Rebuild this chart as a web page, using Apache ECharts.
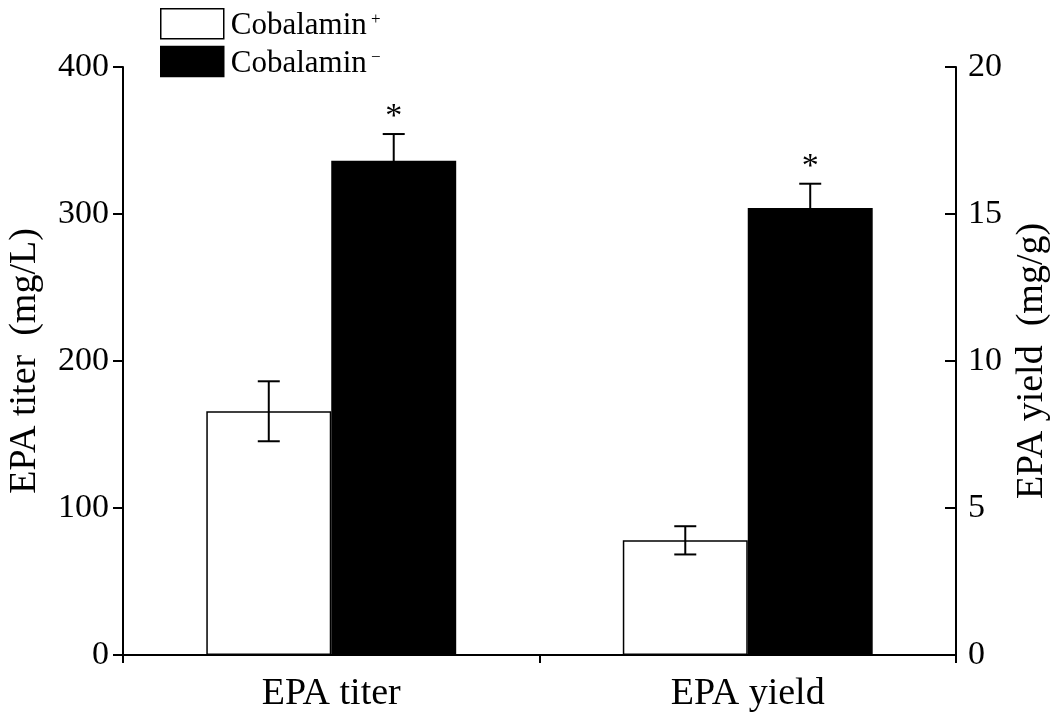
<!DOCTYPE html>
<html>
<head>
<meta charset="utf-8">
<script src="https://cdn.jsdelivr.net/npm/echarts@6/dist/echarts.min.js"></script>
<style>
html,body{margin:0;padding:0;background:#fff;}
#chart{width:1051px;height:715px;}
</style>
</head>
<body>
<div id="chart"></div>
<script>
// ---- data ----
const categories = ['EPA titer', 'EPA yield'];
const plusValues = [165.8, 3.9];     // Cobalamin+ : titer (mg/L), yield (mg/g)
const plusErrors = [20.4, 0.48];
const minusValues = [336.3, 15.2];   // Cobalamin- : titer (mg/L), yield (mg/g)
const minusErrors = [18.1, 0.83];
const minusSignificant = [true, true];
const leftAxisTicks = [0, 100, 200, 300, 400];
const rightAxisTicks = [0, 5, 10, 15, 20];

const FONT = '"Liberation Serif", "Times New Roman", serif';

function onlyAt(arr, i) { return arr.map((v, k) => k === i ? v : '-'); }

function errData(i) {
  return [
    [i, plusValues[i], plusErrors[i], 0, 0],
    [i, minusValues[i], minusErrors[i], 1, minusSignificant[i] ? 1 : 0]
  ];
}

function renderErr(params, api) {
  const cat = api.value(0), val = api.value(1), err = api.value(2), side = api.value(3), sig = api.value(4);
  const band = api.size([1, 0])[0];
  const cx = api.coord([cat, 0])[0] + (side === 0 ? -0.15 : 0.15) * band;
  const top = api.coord([cat, val + err])[1];
  const bot = api.coord([cat, val - err])[1];
  const hw = 11;
  const st = { stroke: '#000', lineWidth: 2 };
  const children = [
    { type: 'line', shape: { x1: cx, y1: top, x2: cx, y2: bot }, style: st },
    { type: 'line', shape: { x1: cx - hw, y1: top, x2: cx + hw, y2: top }, style: st },
    { type: 'line', shape: { x1: cx - hw, y1: bot, x2: cx + hw, y2: bot }, style: st }
  ];
  if (sig) {
    children.push({ type: 'text', style: { text: '*', x: cx, y: top - 17, fill: '#000', font: '34px ' + FONT, align: 'center', verticalAlign: 'middle' } });
  }
  return { type: 'group', children };
}

const plusStyle = { color: '#fff', borderColor: '#000', borderWidth: 1.5 };
const minusStyle = { color: '#000', borderColor: '#000', borderWidth: 1.5 };

const chart = echarts.init(document.getElementById('chart'), null, { renderer: 'canvas' });
chart.setOption({
  backgroundColor: '#fff',
  animation: false,
  textStyle: { fontFamily: FONT, color: '#000' },
  grid: { left: 123, right: 95, top: 67, bottom: 60, outerBoundsMode: 'none', containLabel: false },
  legend: {
    orient: 'vertical', left: 160, top: 8, padding: 0, itemGap: 4, itemWidth: 63, itemHeight: 30,
    icon: 'rect', selectedMode: false,
    data: ['Cobalamin+', 'Cobalamin-'],
    formatter: function (n) { return n === 'Cobalamin+' ? '{a|Cobalamin}{s| +}' : '{a|Cobalamin}{s| \u2212}'; },
    itemStyle: { borderWidth: 1.5, borderColor: '#000' },
    textStyle: {
      fontFamily: FONT, color: '#000', padding: [5, 0, 0, 2],
      rich: {
        a: { fontFamily: FONT, fontSize: 31, color: '#000', lineHeight: 30 },
        s: { fontFamily: FONT, fontSize: 17, color: '#000', verticalAlign: 'top', lineHeight: 22 }
      }
    }
  },
  xAxis: {
    type: 'category', data: categories,
    axisLine: { lineStyle: { color: '#000', width: 2 } },
    axisTick: { show: true, inside: false, length: 8, lineStyle: { color: '#000', width: 2 } },
    axisLabel: { fontFamily: FONT, fontSize: 38, color: '#000', margin: 20 }
  },
  yAxis: [
    {
      type: 'value', min: leftAxisTicks[0], max: leftAxisTicks[leftAxisTicks.length - 1], interval: leftAxisTicks[1] - leftAxisTicks[0],
      position: 'left',
      name: 'EPA titer  (mg/L)', nameLocation: 'middle', nameGap: 79, nameRotate: 90,
      nameTextStyle: { fontFamily: FONT, fontSize: 38, color: '#000' },
      axisLine: { show: true, lineStyle: { color: '#000', width: 2 } },
      axisTick: { show: true, inside: false, length: 10, lineStyle: { color: '#000', width: 2 } },
      axisLabel: { fontFamily: FONT, fontSize: 34, color: '#000', margin: 14 },
      splitLine: { show: false }
    },
    {
      type: 'value', min: rightAxisTicks[0], max: rightAxisTicks[rightAxisTicks.length - 1], interval: rightAxisTicks[1] - rightAxisTicks[0],
      position: 'right',
      name: 'EPA yield  (mg/g)', nameLocation: 'middle', nameGap: 50, nameRotate: 90,
      nameTextStyle: { fontFamily: FONT, fontSize: 38, color: '#000' },
      axisLine: { show: true, lineStyle: { color: '#000', width: 2 } },
      axisTick: { show: true, inside: true, length: 11, lineStyle: { color: '#000', width: 2 } },
      axisLabel: { fontFamily: FONT, fontSize: 34, color: '#000', margin: 12 },
      splitLine: { show: false }
    }
  ],
  series: [
    { name: 'Cobalamin+', type: 'bar', stack: 'plus', yAxisIndex: 0, barWidth: '30%', barGap: '0%', data: onlyAt(plusValues, 0), itemStyle: plusStyle },
    { name: 'Cobalamin+', type: 'bar', stack: 'plus', yAxisIndex: 1, barWidth: '30%', barGap: '0%', data: onlyAt(plusValues, 1), itemStyle: plusStyle },
    { name: 'Cobalamin-', type: 'bar', stack: 'minus', yAxisIndex: 0, barWidth: '30%', barGap: '0%', data: onlyAt(minusValues, 0), itemStyle: minusStyle },
    { name: 'Cobalamin-', type: 'bar', stack: 'minus', yAxisIndex: 1, barWidth: '30%', barGap: '0%', data: onlyAt(minusValues, 1), itemStyle: minusStyle },
    { type: 'custom', yAxisIndex: 0, data: errData(0), renderItem: renderErr, z: 5, silent: true },
    { type: 'custom', yAxisIndex: 1, data: errData(1), renderItem: renderErr, z: 5, silent: true }
  ]
});
</script>
</body>
</html>
